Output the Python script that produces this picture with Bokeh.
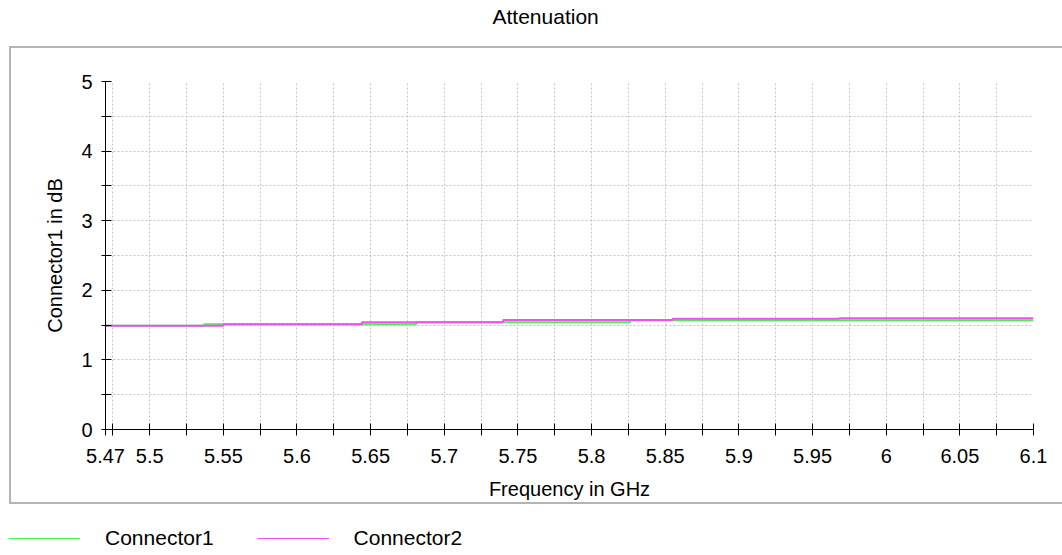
from bokeh.plotting import figure
from bokeh.layouts import column
from bokeh.models import Range1d, FixedTicker, Legend, LegendItem, InlineStyleSheet, Title
from bokeh.embed import file_html
from bokeh.resources import INLINE

# ---------------- data ----------------
title_text = "Attenuation"
x_label = "Frequency in GHz"
y_label = "Connector1 in dB"
series_names = ["Connector1", "Connector2"]

# step breakpoints (GHz) and levels (dB), value holds until next breakpoint
c1_freq = [5.47, 5.537, 5.681, 5.826, 6.1]
c1_db = [1.49, 1.512, 1.542, 1.568, 1.568]
c2_freq = [5.47, 5.550, 5.644, 5.740, 5.855, 5.968, 6.1]
c2_db = [1.49, 1.512, 1.542, 1.572, 1.593, 1.600, 1.600]

x_ticks = [5.47, 5.5, 5.55, 5.6, 5.65, 5.7, 5.75, 5.8, 5.85, 5.9, 5.95, 6.0, 6.05, 6.1]
x_tick_labels = ["5.47", "5.5", "5.55", "5.6", "5.65", "5.7", "5.75", "5.8", "5.85",
                 "5.9", "5.95", "6", "6.05", "6.1"]
x_minor_ticks = [5.475, 5.525, 5.575, 5.625, 5.675, 5.725, 5.775, 5.825, 5.875,
                 5.925, 5.975, 6.025, 6.075]
x_grid = [5.475, 5.5, 5.525, 5.55, 5.575, 5.6, 5.625, 5.65, 5.675, 5.7, 5.725, 5.75,
          5.775, 5.8, 5.825, 5.85, 5.875, 5.9, 5.925, 5.95, 5.975, 6.0, 6.025, 6.05,
          6.075, 6.1]
y_ticks = [0, 1, 2, 3, 4, 5]
y_tick_labels = ["0", "1", "2", "3", "4", "5"]
y_minor_ticks = [0.5, 1.5, 2.5, 3.5, 4.5]
y_grid = [0.5, 1, 1.5, 2, 2.5, 3, 3.5, 4, 4.5, 5]

colors = ["#4CF04C", "#F050F0"]
FONT = "Liberation Sans"

# ---------------- main figure ----------------
W = 1062
FL, FT, FW, FH, FB = 105, 81, 928, 348, 84
p = figure(frame_width=FW, frame_height=FH,
           min_border_left=FL, min_border_right=W - FL - FW,
           min_border_top=FT, min_border_bottom=FB,
           x_range=Range1d(5.47, 6.1), y_range=Range1d(0, 5),
           title_location=None,
           output_backend="svg", toolbar_location=None, tools="")
p.frame_align = False
p.outline_line_color = None
p.background_fill_color = "white"
p.border_fill_color = "white"

r1 = p.step(c1_freq, c1_db, mode="after", line_color=colors[0], line_width=2)
r2 = p.step(c2_freq, c2_db, mode="after", line_color=colors[1], line_width=2)

# above panel: first entry sits next to the frame (blank spacer), title above it
spacer = Title(text=" ", text_font_size="2px", standoff=49, text_color="white")
title = Title(text=title_text, align="left", offset=387, standoff=2,
              text_font=FONT, text_font_size="21px", text_font_style="normal",
              text_color="black")
p.add_layout(spacer, "above")
p.add_layout(title, "above")

# axes
xa = p.xaxis[0]
xa.ticker = FixedTicker(ticks=x_ticks, minor_ticks=x_minor_ticks)
xa.major_label_overrides = dict(zip(x_ticks, x_tick_labels))
xa.major_tick_in = 6
xa.major_tick_out = 6
xa.minor_tick_in = 6
xa.minor_tick_out = 6
xa.major_label_standoff = 13
xa.axis_label = x_label
xa.axis_label_standoff = 12

ya = p.yaxis[0]
ya.ticker = FixedTicker(ticks=y_ticks, minor_ticks=y_minor_ticks)
ya.major_label_overrides = dict(zip(y_ticks, y_tick_labels))
ya.major_tick_in = 6
ya.major_tick_out = 4
ya.minor_tick_in = 6
ya.minor_tick_out = 4
ya.major_label_standoff = 9
ya.axis_label = y_label
ya.axis_label_standoff = 12

for ax in (xa, ya):
    ax.axis_line_color = "black"
    ax.axis_line_width = 1
    ax.major_tick_line_color = "black"
    ax.minor_tick_line_color = "black"
    ax.major_label_text_font = FONT
    ax.major_label_text_font_size = "20px"
    ax.major_label_text_color = "black"
    ax.axis_label_text_font = FONT
    ax.axis_label_text_font_size = "20px"
    ax.axis_label_text_font_style = "normal"
    ax.axis_label_text_color = "black"

# grid
p.xgrid.ticker = FixedTicker(ticks=x_grid)
p.ygrid.ticker = FixedTicker(ticks=y_grid)
for g in (p.xgrid[0], p.ygrid[0]):
    g.grid_line_color = "#c4c4c4"
    g.grid_line_dash = "2 2"
    g.grid_line_width = 1

# outer grey frame around the plot region (drawn with CSS on the figure element)
p.stylesheets = [InlineStyleSheet(css="""
:host::after {
  content: ""; position: absolute; left: 9px; top: 46px; width: 1053px; height: 458px;
  border: 2px solid #b4b4b4; border-right: none; box-sizing: border-box;
  pointer-events: none; z-index: 5;
}
""")]

# ---------------- legend strip below the chart ----------------
LH = 40
q = figure(width=W, height=LH, min_border=0,
           x_range=Range1d(5.47, 6.1), y_range=Range1d(0, 5),
           x_axis_location=None, y_axis_location=None, title_location=None,
           output_backend="svg", toolbar_location=None, tools="")
q.frame_align = False
q.outline_line_color = None
q.grid.visible = False
q.background_fill_color = "white"
q.border_fill_color = "white"
l1 = q.step(c1_freq, c1_db, mode="after", line_color=colors[0], line_width=1, visible=False)
l2 = q.step(c2_freq, c2_db, mode="after", line_color=colors[1], line_width=1, visible=False)

legend = Legend(items=[LegendItem(label=series_names[0], renderers=[l1]),
                       LegendItem(label=series_names[1], renderers=[l2])],
                orientation="horizontal", location=(8, 3),
                glyph_width=72, label_standoff=25, spacing=43,
                padding=0, margin=0, border_line_color=None, background_fill_alpha=0,
                label_text_font=FONT, label_text_font_size="21px", label_text_color="black")
q.add_layout(legend)

layout = column(p, q, spacing=0)
open("out.html", "w").write(file_html(layout, INLINE))
